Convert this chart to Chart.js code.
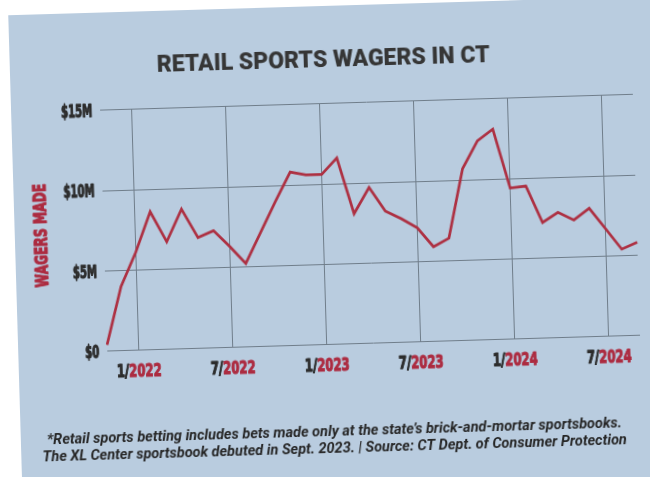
<html>

<head>
    <title>Retail Sports Wagers in CT</title>
    <script src="https://cdn.jsdelivr.net/npm/chart.js"></script>
</head>

<style>
    body {
        margin: 0;
        background-color: #ffffff;
        width: 650px;
        height: 477px;
        overflow: hidden;
    }

    /* the printed card is scanned a little crooked */
    #wrap {
        position: relative;
        width: 650px;
        height: 477px;
        transform: rotate(-1.7deg);
        transform-origin: 325px 238px;
    }

    #card {
        position: absolute;
        left: 15px;
        top: 6px;
        width: 660px;
        height: 520px;
        background-color: #b9ccdf;
    }

    #myChart {
        position: absolute;
        left: 0;
        top: 0;
    }
</style>

<body>
    <div id="wrap">
        <div id="card"></div>
        <canvas id="myChart" width="650" height="477"></canvas>
    </div>

    <script>
        // monthly retail wagers, $ millions
        const months = [
            '11/2021', '12/2021',
            '1/2022', '2/2022', '3/2022', '4/2022', '5/2022', '6/2022',
            '7/2022', '8/2022', '9/2022', '10/2022', '11/2022', '12/2022',
            '1/2023', '2/2023', '3/2023', '4/2023', '5/2023', '6/2023',
            '7/2023', '8/2023', '9/2023', '10/2023', '11/2023', '12/2023',
            '1/2024', '2/2024', '3/2024', '4/2024', '5/2024', '6/2024',
            '7/2024', '8/2024', '9/2024'
        ];
        const wagers = [
            0.4, 4.0,
            6.1, 8.6, 6.7, 8.7, 6.9, 7.3,
            6.3, 5.2, 7.1, 9.0, 10.8, 10.6,
            10.6, 11.6, 8.1, 9.7, 8.2, 7.7,
            7.1, 5.9, 6.4, 10.7, 12.4, 13.1,
            9.4, 9.5, 7.2, 7.8, 7.3, 8.0,
            6.7, 5.4, 5.8
        ];
        const xTickMonths = ['1/2022', '7/2022', '1/2023', '7/2023', '1/2024', '7/2024'];
        const yTickValues = [0, 5, 10, 15];
        const yTickLabels = ['$0', '$5M', '$10M', '$15M'];
        const yTitle = 'WAGERS MADE';

        const red = '#ac2b40';
        const ink = '#2c2c2c';
        const gridColor = '#6f7d8a';
        const narrow = "'DejaVu Sans Condensed', 'Liberation Sans', sans-serif";

        // squeezed + slightly stroked text, to get the heavy narrow poster face of the print
        function squeezed(ctx, text, x, y, sx, align) {
            ctx.save();
            ctx.translate(x, y);
            ctx.scale(sx, 1);
            ctx.textAlign = align;
            ctx.strokeStyle = ctx.fillStyle;
            ctx.lineWidth = 1.1;
            ctx.lineJoin = 'round';
            ctx.fillText(text, 0, 0);
            ctx.strokeText(text, 0, 0);
            ctx.restore();
        }

        const axisText = {
            id: 'axisText',
            afterDraw(chart) {
                const ctx = chart.ctx;
                const x = chart.scales.x;
                const y = chart.scales.y;
                const area = chart.chartArea;
                ctx.save();

                // x labels are two-tone: month in ink, year in red
                const sx = 0.72;
                ctx.font = 'bold 18px ' + narrow;
                ctx.textBaseline = 'top';
                xTickMonths.forEach(label => {
                    const px = x.getPixelForValue(months.indexOf(label));
                    const parts = label.split('/');
                    const a = parts[0] + '/';
                    const b = parts[1];
                    const wa = ctx.measureText(a).width * sx;
                    const wb = ctx.measureText(b).width * sx;
                    const left = px - (wa + wb) / 2;
                    const top = area.bottom + 13;
                    ctx.fillStyle = ink;
                    squeezed(ctx, a, left, top, sx, 'left');
                    ctx.fillStyle = red;
                    squeezed(ctx, b, left + wa, top, sx, 'left');
                });

                // y labels
                ctx.font = 'bold 17px ' + narrow;
                ctx.textBaseline = 'middle';
                ctx.fillStyle = ink;
                yTickValues.forEach((v, i) => {
                    squeezed(ctx, yTickLabels[i], area.left - 8, y.getPixelForValue(v) + 2, 0.66, 'right');
                });

                // y title
                ctx.font = 'bold 17px ' + narrow;
                ctx.fillStyle = red;
                ctx.textBaseline = 'middle';
                ctx.translate(43, (area.top + area.bottom) / 2 + 3);
                ctx.rotate(-Math.PI / 2);
                squeezed(ctx, yTitle, 0, 0, 0.8, 'center');

                ctx.restore();
            }
        };

        const data = {
            labels: months,
            datasets: [{
                data: wagers,
                borderColor: '#ad3042',
                borderWidth: 2.7,
                pointRadius: 0,
                tension: 0,
                fill: false
            }]
        };

        const config = {
            type: 'line',
            data: data,
            plugins: [axisText],
            options: {
                responsive: false,
                animation: false,
                layout: {
                    padding: { left: 20, right: 13, top: 0, bottom: 0 }
                },
                plugins: {
                    legend: { display: false },
                    tooltip: { enabled: false },
                    title: {
                        display: true,
                        text: 'RETAIL SPORTS WAGERS IN CT',
                        color: '#363636',
                        font: { family: 'Roboto', size: 23, weight: 900 },
                        padding: { top: 47, bottom: 29 }
                    },
                    subtitle: {
                        display: true,
                        position: 'bottom',
                        text: [
                            '*Retail sports betting includes bets made only at the state\u2019s brick-and-mortar sportsbooks.',
                            'The XL Center sportsbook debuted in Sept. 2023. | Source: CT Dept. of Consumer Protection'
                        ],
                        color: '#262626',
                        font: { family: 'Roboto', size: 14.5, weight: 'bold', style: 'italic', lineHeight: 1.2 },
                        padding: { top: 38, bottom: 19 }
                    }
                },
                scales: {
                    x: {
                        type: 'category',
                        offset: false,
                        border: { display: false },
                        grid: {
                            drawTicks: false,
                            lineWidth: 1,
                            color: (ctx) => xTickMonths.includes(months[ctx.index]) ? gridColor : 'transparent'
                        },
                        ticks: {
                            autoSkip: false,
                            maxRotation: 0,
                            minRotation: 0,
                            padding: 10,
                            color: 'transparent',
                            font: { family: narrow, size: 17, weight: 'bold' },
                            callback: (v, i) => xTickMonths.includes(months[i]) ? months[i] : ''
                        }
                    },
                    y: {
                        min: 0,
                        max: 15,
                        border: { display: false },
                        afterFit: (scale) => { scale.width = 84; },
                        afterBuildTicks: (scale) => {
                            scale.ticks = yTickValues.map(v => ({ value: v }));
                        },
                        grid: {
                            drawTicks: false,
                            lineWidth: 1,
                            color: gridColor
                        },
                        ticks: {
                            padding: 8,
                            color: 'transparent',
                            font: { family: narrow, size: 16, weight: 'bold' },
                            callback: (v) => yTickLabels[yTickValues.indexOf(v)]
                        }
                    }
                }
            }
        };
    </script>
    <script>
        const myChart = new Chart(
            document.getElementById('myChart'),
            config
        );
    </script>
</body>

</html>
